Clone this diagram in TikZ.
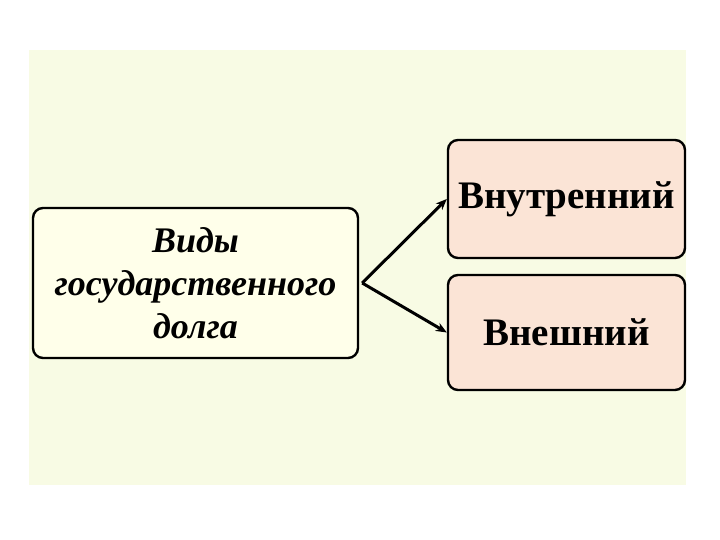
\documentclass[tikz,border=0pt]{standalone}
\usepackage{fontspec}
\setmainfont{Liberation Serif}
\usetikzlibrary{arrows.meta}
\begin{document}
\begin{tikzpicture}[x=1pt,y=1pt,
  box/.style={draw=black, line width=2.4pt, rounded corners=10pt, inner sep=0pt, align=center},
  conn/.style={line width=3pt, -{Stealth[length=11pt,width=9pt]}}]
\useasboundingbox (0,0) rectangle (720,540);
\fill[white] (0,0) rectangle (720,540);
\fill[fill={rgb,255:red,248;green,251;blue,228}] (29,55) rectangle (686,490);
\node[box, fill={rgb,255:red,255;green,255;blue,234}, minimum width=325pt, minimum height=150pt,
  font=\fontsize{36}{43}\selectfont\bfseries\itshape] (src) at (195.5,257) {Виды\\государственного\\долга};
\node[box, fill={rgb,255:red,251;green,228;blue,214}, minimum width=237pt, minimum height=118pt,
  font=\fontsize{39}{44}\selectfont\bfseries] (int) at (566.5,341) {Внутренний};
\node[box, fill={rgb,255:red,251;green,228;blue,214}, minimum width=237pt, minimum height=115pt,
  font=\fontsize{39}{44}\selectfont\bfseries] (ext) at (566.5,207.5) {Внешний};
\coordinate (o) at ([xshift=3pt]src.east);
\draw[conn] (o) -- (int.west);
\draw[conn] (o) -- (ext.west);
\end{tikzpicture}
\end{document}
